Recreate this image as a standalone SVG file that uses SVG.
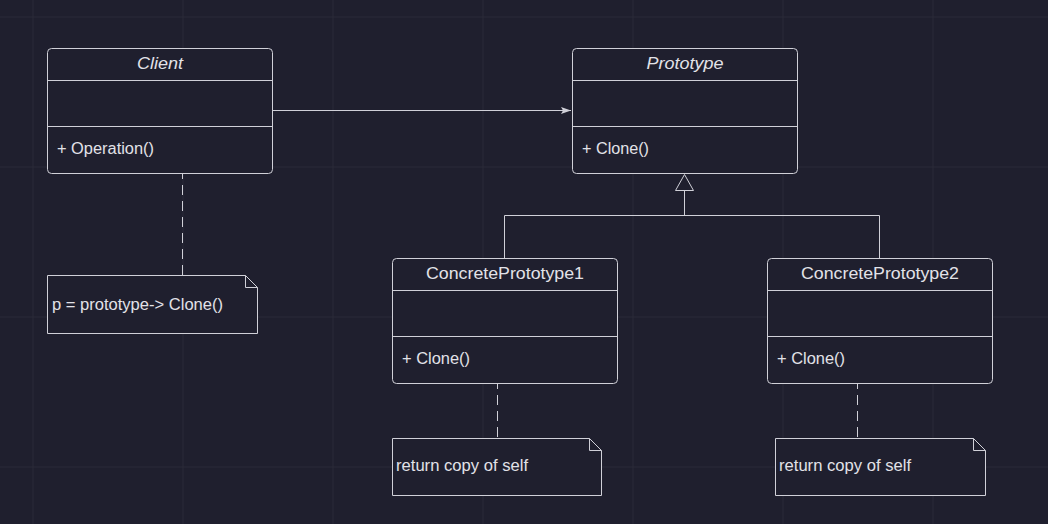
<svg xmlns="http://www.w3.org/2000/svg" width="1048" height="524" viewBox="0 0 1048 524">
<defs>
<style>
.bg{fill:#1f1f2e}
.grid{stroke:#2b2b39;stroke-width:1}
.box{fill:#1f1f2e;stroke:#d0d0d8;stroke-width:1}
.div{stroke:#d0d0d8;stroke-width:1}
.ln{stroke:#d0d0d8;stroke-width:1;fill:none}
.dash{stroke:#d0d0d8;stroke-width:1;fill:none;stroke-dasharray:10 6}
.title{font-family:"Liberation Sans",Arial,sans-serif;font-size:16px;fill:#e2e2e8;text-anchor:middle;font-weight:normal}
.it{font-style:italic}
.txt{font-family:"Liberation Sans",Arial,sans-serif;font-size:16px;fill:#e2e2e8}
</style>
<marker id="arr" markerWidth="11" markerHeight="8" refX="10" refY="3.5" orient="auto" markerUnits="userSpaceOnUse">
<path d="M0,0 L10,3.5 L0,7 L2,3.5 Z" fill="#d0d0d8"/>
</marker>
</defs>
<rect class="bg" x="0" y="0" width="1048" height="524"/>
<g id="grid">
<line class="grid" x1="33" y1="0" x2="33" y2="524"/>
<line class="grid" x1="183" y1="0" x2="183" y2="524"/>
<line class="grid" x1="333" y1="0" x2="333" y2="524"/>
<line class="grid" x1="483" y1="0" x2="483" y2="524"/>
<line class="grid" x1="633" y1="0" x2="633" y2="524"/>
<line class="grid" x1="783" y1="0" x2="783" y2="524"/>
<line class="grid" x1="933" y1="0" x2="933" y2="524"/>
<line class="grid" x1="0" y1="17" x2="1048" y2="17"/>
<line class="grid" x1="0" y1="167" x2="1048" y2="167"/>
<line class="grid" x1="0" y1="317" x2="1048" y2="317"/>
<line class="grid" x1="0" y1="467" x2="1048" y2="467"/>
</g>
<g id="connectors">
<line class="ln" x1="272.5" y1="110.5" x2="571" y2="110.5" marker-end="url(#arr)"/>
<polyline class="ln" points="504.5,258 504.5,215.5 879.5,215.5 879.5,258"/>
<line class="ln" x1="684.5" y1="190" x2="684.5" y2="215.5"/>
<polygon class="ln" points="684.5,174.5 675.5,190.5 693.5,190.5"/>
<line class="dash" x1="182.5" y1="153" x2="182.5" y2="275"/>
<line class="dash" x1="497.5" y1="363" x2="497.5" y2="438"/>
<line class="dash" x1="857.5" y1="363" x2="857.5" y2="438"/>
</g>
<g id="client">
<rect class="box" x="47.5" y="48.5" width="225" height="125" rx="4"/>
<line class="div" x1="47.5" y1="80.5" x2="272.5" y2="80.5"/>
<line class="div" x1="47.5" y1="126.5" x2="272.5" y2="126.5"/>
<text class="title it" x="160" y="69" textLength="46" lengthAdjust="spacingAndGlyphs">Client</text>
<text class="txt" x="57" y="154" textLength="97" lengthAdjust="spacingAndGlyphs">+ Operation()</text>
</g>
<g id="prototype">
<rect class="box" x="572.5" y="48.5" width="225" height="125" rx="4"/>
<line class="div" x1="572.5" y1="80.5" x2="797.5" y2="80.5"/>
<line class="div" x1="572.5" y1="126.5" x2="797.5" y2="126.5"/>
<text class="title it" x="685" y="69" textLength="77" lengthAdjust="spacingAndGlyphs">Prototype</text>
<text class="txt" x="582" y="154" textLength="67" lengthAdjust="spacingAndGlyphs">+ Clone()</text>
</g>
<g id="concrete1">
<rect class="box" x="392.5" y="258.5" width="225" height="125" rx="4"/>
<line class="div" x1="392.5" y1="290.5" x2="617.5" y2="290.5"/>
<line class="div" x1="392.5" y1="336.5" x2="617.5" y2="336.5"/>
<text class="title" x="505" y="279" textLength="158" lengthAdjust="spacingAndGlyphs">ConcretePrototype1</text>
<text class="txt" x="402" y="364" textLength="68" lengthAdjust="spacingAndGlyphs">+ Clone()</text>
</g>
<g id="concrete2">
<rect class="box" x="767.5" y="258.5" width="225" height="125" rx="4"/>
<line class="div" x1="767.5" y1="290.5" x2="992.5" y2="290.5"/>
<line class="div" x1="767.5" y1="336.5" x2="992.5" y2="336.5"/>
<text class="title" x="880" y="279" textLength="158" lengthAdjust="spacingAndGlyphs">ConcretePrototype2</text>
<text class="txt" x="777" y="364" textLength="68" lengthAdjust="spacingAndGlyphs">+ Clone()</text>
</g>
<g id="note-client">
<path class="box" d="M47.5,275.5 H245.5 L257.5,287.5 V333.5 H47.5 Z"/>
<path class="ln" d="M245.5,275.5 V287.5 H257.5"/>
<text class="txt" x="52" y="310" textLength="171" lengthAdjust="spacingAndGlyphs">p = prototype-&gt; Clone()</text>
</g>
<g id="note-cp1">
<path class="box" d="M392.5,438.5 H589.5 L601.5,450.5 V495.5 H392.5 Z"/>
<path class="ln" d="M589.5,438.5 V450.5 H601.5"/>
<text class="txt" x="396" y="471" textLength="132" lengthAdjust="spacingAndGlyphs">return copy of self</text>
</g>
<g id="note-cp2">
<path class="box" d="M775.5,438.5 H973.5 L985.5,450.5 V495.5 H775.5 Z"/>
<path class="ln" d="M973.5,438.5 V450.5 H985.5"/>
<text class="txt" x="779" y="471" textLength="132" lengthAdjust="spacingAndGlyphs">return copy of self</text>
</g>
</svg>
